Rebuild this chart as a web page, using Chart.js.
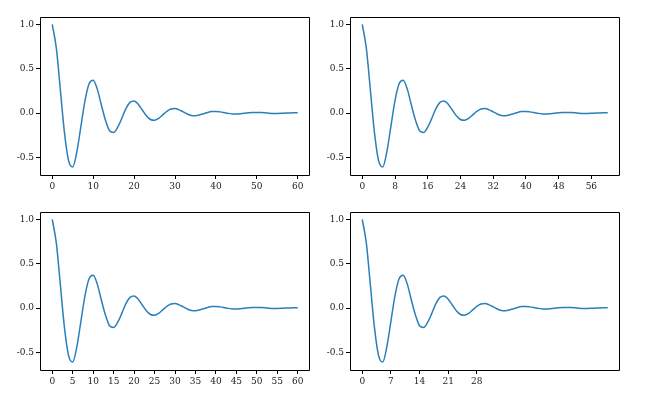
<!DOCTYPE html>
<html>
<head>
<meta charset="UTF-8">
<script src="https://cdn.jsdelivr.net/npm/chart.js@4.4.0/dist/chart.umd.min.js"></script>
<style>
  body { margin: 0; background: #fff; width: 656px; height: 408px; position: relative; overflow: hidden; }
  .box { position: absolute; width: 312px; height: 190px; }
</style>
</head>
<body>
<div class="box" style="left:0;top:10px"><canvas id="c0"></canvas></div>
<div class="box" style="left:310px;top:10px"><canvas id="c1"></canvas></div>
<div class="box" style="left:0;top:205px"><canvas id="c2"></canvas></div>
<div class="box" style="left:310px;top:205px"><canvas id="c3"></canvas></div>
<script>
// damped oscillation, x = 0..60 step 1
var xValues = [];
for (var i = 0; i <= 60; i++) xValues.push(i);
var yValues = [1, 0.73, 0.25, -0.23, -0.54, -0.61, -0.44, -0.15, 0.14, 0.33,
  0.37, 0.27, 0.09, -0.08, -0.20, -0.22, -0.16, -0.06, 0.05, 0.12,
  0.135, 0.10, 0.034, -0.031, -0.073, -0.082, -0.060, -0.021, 0.019, 0.045,
  0.050, 0.036, 0.013, -0.011, -0.027, -0.030, -0.022, -0.008, 0.007, 0.016,
  0.018, 0.013, 0.005, -0.004, -0.010, -0.011, -0.008, -0.003, 0.003, 0.006,
  0.007, 0.005, 0.002, -0.002, -0.004, -0.004, -0.003, -0.001, 0.001, 0.002, 0.002];
var xTicks = [
  [0, 10, 20, 30, 40, 50, 60],
  [0, 8, 16, 24, 32, 40, 48, 56],
  [0, 5, 10, 15, 20, 25, 30, 35, 40, 45, 50, 55, 60],
  [0, 7, 14, 21, 28]
];
var yTicks = [-0.5, 0, 0.5, 1.0];

var frame = {
  id: 'frame',
  afterDraw: function (c) {
    var a = c.chartArea, g = c.ctx;
    var l = Math.round(a.left) + 0.5, r = Math.round(a.right) - 0.5;
    var t = Math.round(a.top) + 0.5, b = Math.round(a.bottom) + 0.5;
    g.save(); g.strokeStyle = '#000'; g.lineWidth = 1;
    g.beginPath();
    g.moveTo(l, t); g.lineTo(r, t); g.lineTo(r, b); g.lineTo(l, b); g.closePath();
    g.stroke();
    g.restore();
  }
};

var font = { family: '"DejaVu Serif", serif', size: 9 };

function makeChart(id, ticks) {
  new Chart(document.getElementById(id), {
    type: 'line',
    data: {
      datasets: [{
        data: xValues.map(function (x, i) { return { x: x, y: yValues[i] }; }),
        borderColor: '#2a7fba', borderWidth: 1.5, pointRadius: 0,
        cubicInterpolationMode: 'monotone', fill: false
      }]
    },
    options: {
      responsive: true, maintainAspectRatio: false, animation: false,
      layout: { padding: { top: 0, right: 2, left: 0, bottom: 0 } },
      plugins: { legend: { display: false }, tooltip: { enabled: false } },
      scales: {
        x: {
          type: 'linear', min: -3, max: 63,
          afterBuildTicks: function (s) { s.ticks = ticks.map(function (v) { return { value: v }; }); },
          afterFit: function (s) { s.height = 25; },
          grid: { drawOnChartArea: false, tickLength: 4, color: '#000' },
          border: { display: false },
          ticks: { font: font, color: '#222', maxRotation: 0, autoSkip: false, padding: 2 }
        },
        y: {
          min: -0.7, max: 1.08,
          afterBuildTicks: function (s) { s.ticks = yTicks.map(function (v) { return { value: v }; }); },
          afterFit: function (s) { s.width = 40; },
          grid: { drawOnChartArea: false, tickLength: 4, color: '#000' },
          border: { display: false },
          ticks: { font: font, color: '#222', padding: 2,
            callback: function (v) { return v.toFixed(1); } }
        }
      }
    },
    plugins: [frame]
  });
}
makeChart('c0', xTicks[0]);
makeChart('c1', xTicks[1]);
makeChart('c2', xTicks[2]);
makeChart('c3', xTicks[3]);
</script>
</body>
</html>
